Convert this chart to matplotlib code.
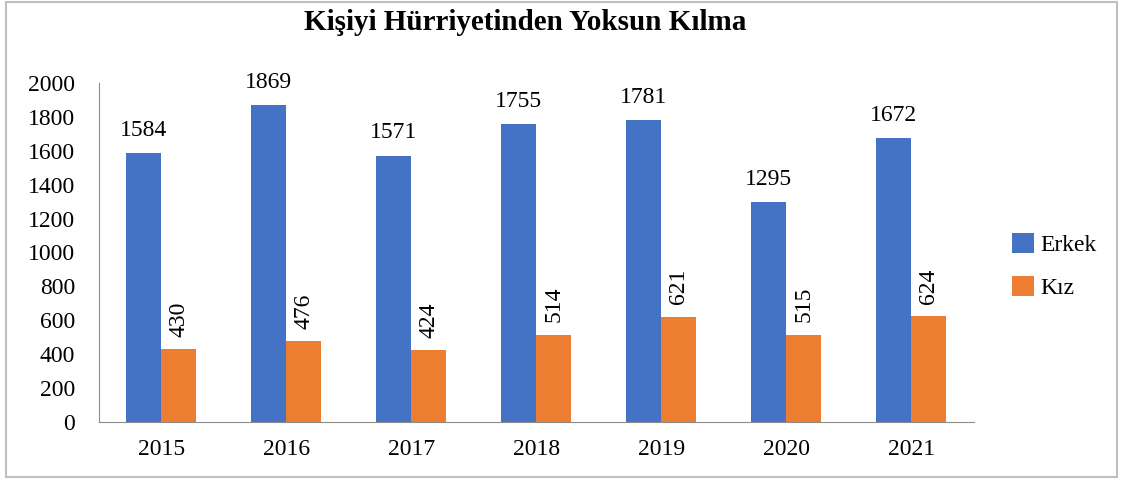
import numpy as np
import matplotlib.pyplot as plt
from matplotlib.patches import Rectangle

years = ['2015', '2016', '2017', '2018', '2019', '2020', '2021']
erkek = [1584, 1869, 1571, 1755, 1781, 1295, 1672]
kiz = [430, 476, 424, 514, 621, 515, 624]

blue = '#4472C4'
orange = '#ED7D31'

plt.rcParams['font.family'] = ['Liberation Serif', 'DejaVu Serif']

fig = plt.figure(figsize=(11.23, 4.79), dpi=100)
ax = fig.add_axes([0.088, 0.119, 0.779, 0.708])

x = np.arange(len(years))
w = 0.28
b1 = ax.bar(x - w / 2, erkek, w, color=blue, label='Erkek')
b2 = ax.bar(x + w / 2, kiz, w, color=orange, label='Kız')

for rect, v in zip(b1, erkek):
    ax.annotate(str(v), (rect.get_x() + rect.get_width() / 2, v),
                xytext=(0, 9), textcoords='offset points',
                ha='center', va='bottom', fontsize=17)
for rect, v in zip(b2, kiz):
    ax.annotate(str(v), (rect.get_x() + rect.get_width() / 2, v),
                xytext=(0, 9), textcoords='offset points',
                ha='center', va='bottom', fontsize=17, rotation=90)

ax.set_xlim(-0.5, len(years) - 0.5)
ax.set_ylim(0, 2000)
ax.set_yticks(range(0, 2001, 200))
ax.set_xticks(x)
ax.set_xticklabels(years)
ax.tick_params(length=0, labelsize=17)
ax.tick_params(axis='x', pad=12)
ax.tick_params(axis='y', pad=17)
for s in ['top', 'right']:
    ax.spines[s].set_visible(False)
for s in ['left', 'bottom']:
    ax.spines[s].set_color('#8c8c8c')

fig.text(0.468, 0.952, 'Kişiyi Hürriyetinden Yoksun Kılma', ha='center', va='center',
         fontsize=21, fontweight='bold')

ax.legend(loc='center left', bbox_to_anchor=(1.02, 0.46), frameon=False,
          fontsize=17, handlelength=0.9, handleheight=0.9, handletextpad=0.3,
          labelspacing=0.85)

fig.patches.append(Rectangle((0.005, 0.005), 0.99, 0.99, transform=fig.transFigure,
                             fill=False, edgecolor='#bfbfbf', linewidth=1.5))

fig.savefig('out.png', dpi=100)
